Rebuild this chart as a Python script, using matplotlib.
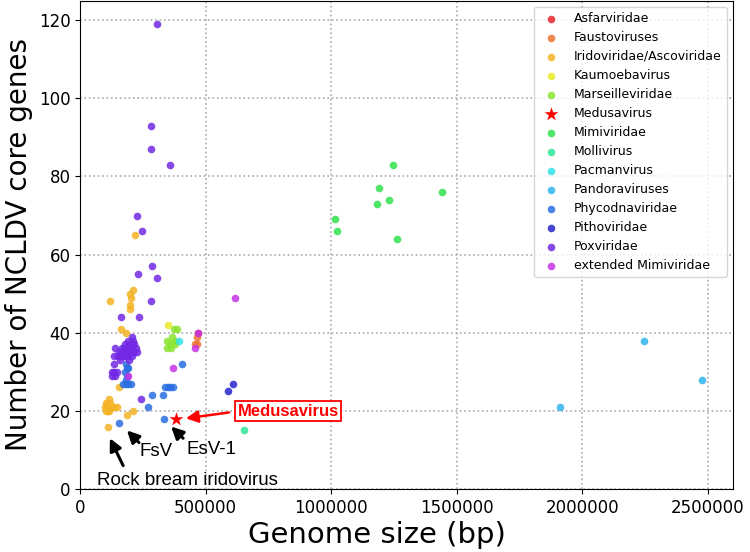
import matplotlib
matplotlib.use("Agg")
import matplotlib.pyplot as plt
from matplotlib.ticker import FixedLocator

# genome size (bp) and number of NCLDV core genes per group
asfar_x = [468000]
asfar_y = [40]
fausto_x = [466000, 457000, 464000]
fausto_y = [39, 37, 37]
irido_x = [117000, 212000, 197000, 201000, 218000, 198000, 197000, 161000, 183000,
           154000, 209000, 186000, 109000,
           113000, 102000, 108000, 118000, 100000, 105000, 112000, 120000, 128000,
           136000, 145000, 104000, 110000, 116000]
irido_y = [48, 51, 50, 49, 65, 47, 46, 41, 40,
           26, 20, 19, 16,
           23, 22, 22, 22, 21, 21, 21, 21, 21,
           21, 21, 20, 20, 20]
kaumo_x = [348000]
kaumo_y = [42]
marseille_x = [372000, 384000, 364000, 376000, 346000, 358000, 378000, 346000, 363000]
marseille_y = [41, 41, 39, 38, 38, 37, 37, 36, 36]
medusa_x = [381000]
medusa_y = [18]
mimi_x = [1248000, 1192000, 1442000, 1232000, 1183000, 1017000, 1023000, 1261000]
mimi_y = [83, 77, 76, 74, 73, 69, 66, 64]
molli_x = [651000]
molli_y = [15]
pacman_x = [395000]
pacman_y = [38]
pandora_x = [2247000, 2479000, 1913000]
pandora_y = [38, 28, 21]
phycodna_x = [153000, 334000, 181000, 191000, 183000, 185000, 181000, 171000, 182000,
              191000, 201000, 336000, 348000, 359000, 371000, 287000, 329000, 271000,
              407000, 178000, 186000]
phycodna_y = [17, 18, 34, 31, 32, 31, 28, 27, 27,
              27, 27, 26, 26, 26, 26, 24, 24, 21,
              32, 30, 29]
pitho_x = [610000, 590000]
pitho_y = [27, 25]
pox_x = [307000, 281000, 281000, 359000, 227000, 245000, 287000, 230000, 306000, 281000,
         161000, 235000, 242000, 134000, 139000, 133000, 125000, 135000, 145000, 128000,
         138000,
         205000, 190000, 210000, 180000, 195000, 205000, 215000, 165000, 175000, 186000,
         197000, 208000, 222000, 155000, 168000, 180000, 191000, 202000, 214000, 228000,
         150000, 162000, 176000, 190000, 206000, 160000, 196000]
pox_y = [119, 93, 87, 83, 70, 66, 57, 55, 54, 48,
         44, 44, 23, 34, 36, 32, 30, 30, 30, 29,
         29,
         39, 38, 38, 37, 37, 37, 37, 36, 36, 36,
         36, 36, 36, 35, 35, 35, 35, 35, 35, 35,
         34, 34, 34, 34, 34, 33, 33]
extmimi_x = [617000, 370000, 470000, 457000, 191000]
extmimi_y = [49, 31, 40, 36, 29]

groups = [
    ("Asfarviridae", asfar_x, asfar_y, "#e8262e"),
    ("Faustoviruses", fausto_x, fausto_y, "#ee7430"),
    ("Iridoviridae/Ascoviridae", irido_x, irido_y, "#f4b426"),
    ("Kaumoebavirus", kaumo_x, kaumo_y, "#eaea28"),
    ("Marseilleviridae", marseille_x, marseille_y, "#8ce432"),
    ("Medusavirus", medusa_x, medusa_y, "red"),
    ("Mimiviridae", mimi_x, mimi_y, "#30e24e"),
    ("Mollivirus", molli_x, molli_y, "#30e49a"),
    ("Pacmanvirus", pacman_x, pacman_y, "#30e2e8"),
    ("Pandoraviruses", pandora_x, pandora_y, "#30b4ee"),
    ("Phycodnaviridae", phycodna_x, phycodna_y, "#2a6ee2"),
    ("Pithoviridae", pitho_x, pitho_y, "#2626cc"),
    ("Poxviridae", pox_x, pox_y, "#7228e4"),
    ("extended Mimiviridae", extmimi_x, extmimi_y, "#c632e4"),
]

fig = plt.figure(figsize=(7.5, 5.52), dpi=100)
ax = fig.add_axes([0.107, 0.114, 0.870, 0.885])

for name, xs, ys, col in groups:
    if name == "Medusavirus":
        ax.scatter(xs, ys, marker="*", s=110, color=col, linewidths=0, zorder=4, label=name)
    else:
        ax.scatter(xs, ys, s=30, color=col, alpha=0.85, linewidths=0, zorder=3, label=name)

ax.set_xlim(0, 2600000)
ax.set_ylim(0, 125)
ax.xaxis.set_major_locator(FixedLocator([0, 500000, 1000000, 1500000, 2000000, 2500000]))
ax.yaxis.set_major_locator(FixedLocator([0, 20, 40, 60, 80, 100, 120]))
ax.ticklabel_format(style="plain", axis="x")
ax.tick_params(labelsize=12)
ax.grid(True, linestyle=":", color="#aaaaaa", linewidth=1.2)
ax.set_axisbelow(True)
ax.set_xlabel("Genome size (bp)", fontsize=21)
ax.xaxis.set_label_coords(0.455, -0.066, transform=ax.transAxes)
ax.xaxis.label.set_va("top")
ax.set_ylabel("Number of NCLDV core genes", fontsize=20)

ax.legend(loc="upper right", fontsize=9, labelspacing=0.48, scatterpoints=1)

# annotations
arrow_k = dict(arrowstyle="-|>", color="black", lw=2.2, mutation_scale=18, shrinkA=0, shrinkB=0)
arrow_r = dict(arrowstyle="-|>", color="red", lw=1.8, mutation_scale=18, shrinkA=0, shrinkB=0)
ann_font = ["Liberation Sans", "DejaVu Sans"]

ax.annotate("", xy=(421000, 18.1), xytext=(593000, 19.6), arrowprops=arrow_r, zorder=5)
ax.text(828000, 19.9, "Medusavirus", color="red", fontsize=12, fontweight="bold",
        family=ann_font, ha="center", va="center", zorder=6,
        bbox=dict(boxstyle="square,pad=0.15", facecolor="white", edgecolor="red", linewidth=1.3))

ax.annotate("", xy=(362000, 16.0), xytext=(410000, 13.0), arrowprops=arrow_k, zorder=5)
ax.text(521000, 10.2, "EsV-1", fontsize=13.5, family=ann_font, ha="center", va="center")

ax.annotate("", xy=(186000, 15.0), xytext=(234000, 11.9), arrowprops=arrow_k, zorder=5)
ax.text(302000, 9.7, "FsV", fontsize=13.5, family=ann_font, ha="center", va="center")

ax.annotate("", xy=(118000, 13.0), xytext=(171000, 6.0), arrowprops=arrow_k, zorder=5)
ax.text(426000, 2.2, "Rock bream iridovirus", fontsize=13.5, family=ann_font,
        ha="center", va="center")

fig.savefig("out.png", dpi=100)
